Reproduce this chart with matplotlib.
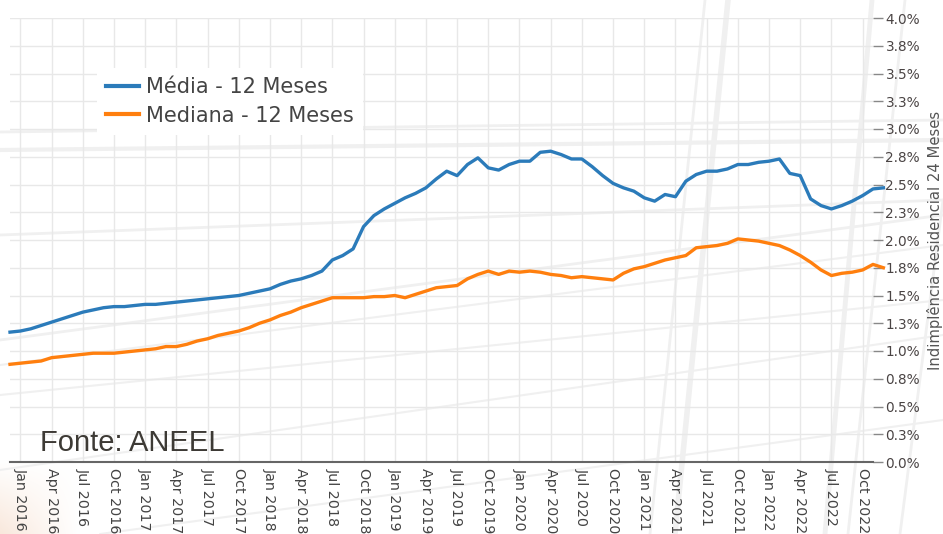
import numpy as np
import matplotlib
matplotlib.use("Agg")
import matplotlib.pyplot as plt
import matplotlib.ticker as mticker
from matplotlib.colors import LinearSegmentedColormap

# ---- data (monthly, Dec 2015 .. Dec 2022) ----
start_month = -1   # months relative to Jan 2016
media = [1.17, 1.18, 1.20, 1.23, 1.26, 1.29, 1.32, 1.35, 1.37, 1.39, 1.40, 1.40,
         1.41, 1.42, 1.42, 1.43, 1.44, 1.45, 1.46, 1.47, 1.48, 1.49, 1.50, 1.52,
         1.54, 1.56, 1.60, 1.63, 1.65, 1.68, 1.72, 1.82, 1.86, 1.92, 2.12, 2.22,
         2.28, 2.33, 2.38, 2.42, 2.47, 2.55, 2.62, 2.58, 2.68, 2.74, 2.65, 2.63,
         2.68, 2.71, 2.71, 2.79, 2.80, 2.77, 2.73, 2.73, 2.66, 2.58, 2.51, 2.47,
         2.44, 2.38, 2.35, 2.41, 2.39, 2.53, 2.59, 2.62, 2.62, 2.64, 2.68, 2.68,
         2.70, 2.71, 2.73, 2.60, 2.58, 2.37, 2.31, 2.28, 2.31, 2.35, 2.40, 2.46,
         2.47]
mediana = [0.88, 0.89, 0.90, 0.91, 0.94, 0.95, 0.96, 0.97, 0.98, 0.98, 0.98, 0.99,
           1.00, 1.01, 1.02, 1.04, 1.04, 1.06, 1.09, 1.11, 1.14, 1.16, 1.18, 1.21,
           1.25, 1.28, 1.32, 1.35, 1.39, 1.42, 1.45, 1.48, 1.48, 1.48, 1.48, 1.49,
           1.49, 1.50, 1.48, 1.51, 1.54, 1.57, 1.58, 1.59, 1.65, 1.69, 1.72, 1.69,
           1.72, 1.71, 1.72, 1.71, 1.69, 1.68, 1.66, 1.67, 1.66, 1.65, 1.64, 1.70,
           1.74, 1.76, 1.79, 1.82, 1.84, 1.86, 1.93, 1.94, 1.95, 1.97, 2.01, 2.00,
           1.99, 1.97, 1.95, 1.91, 1.86, 1.80, 1.73, 1.68, 1.70, 1.71, 1.73, 1.78,
           1.75]
tick_labels = [f"{m} {y}" for y in range(2016, 2023) for m in ("Jan", "Apr", "Jul", "Oct")]
legend_labels = ["Média - 12 Meses", "Mediana - 12 Meses"]
y_label = "Indimplência Residencial 24 Meses"
source = "Fonte: ANEEL"

months = np.arange(start_month, start_month + len(media))

W, H = 943, 534
fig = plt.figure(figsize=(W / 100, H / 100), dpi=100)
fig.patch.set_facecolor("white")

# ---- faint decorative background (slide background) ----
bg = fig.add_axes([0, 0, 1, 1], zorder=-10)
bg.set_xlim(0, W)
bg.set_ylim(H, 0)
bg.axis("off")
grad = np.linspace(1, 0, 200)[None, :] * np.linspace(0, 1, 120)[:, None]
cmap = LinearSegmentedColormap.from_list("p", ["#ffffff", "#f9e8dc"])
bg.imshow(grad, extent=(0, 80, H, 460), cmap=cmap, aspect="auto", zorder=0)
deco = [
    ((0, 150), (943, 140), 3), ((0, 132), (943, 120), 2), ((0, 235), (943, 200), 2),
    ((0, 340), (943, 215), 2), ((0, 365), (943, 245), 1.5), ((0, 395), (943, 300), 1.5),
    ((0, 470), (943, 335), 1.5), ((100, 534), (943, 420), 1.5),
    ((675, 534), (728, 0), 4), ((650, 534), (705, 0), 2), ((825, 534), (872, 0), 3.5),
    ((848, 534), (905, 0), 2), ((900, 534), (943, 200), 2),
]
for (x0, y0), (x1, y1), lw in deco:
    bg.plot([x0, x1], [y0, y1], color="#f0f0f0", lw=lw, solid_capstyle="round", zorder=1)

# ---- main axes ----
x_left, x_right, y_top, y_bot = 10, 873, 18, 462
ax = fig.add_axes([x_left / W, 1 - y_bot / H, (x_right - x_left) / W, (y_bot - y_top) / H])
ax.patch.set_visible(False)

ax.plot(months, media, color="#2b7bba", lw=2.4, label=legend_labels[0], zorder=3, clip_on=False)
ax.plot(months, mediana, color="#ff7f0e", lw=2.4, label=legend_labels[1], zorder=3, clip_on=False)

ax.set_xlim(months[0], months[-2])
ax.set_ylim(0, 4.0)

xt = np.arange(len(tick_labels)) * 3
ax.set_xticks(xt)
ax.set_xticklabels(tick_labels, rotation=-90, fontsize=10.3, color="#444444")
ax.set_yticks(np.arange(0, 4.01, 0.25))
ax.yaxis.set_major_formatter(
    mticker.FuncFormatter(lambda v, p: f"{np.floor(v * 10 + 0.5 + 1e-9) / 10:.1f}%"))
ax.yaxis.tick_right()
ax.yaxis.set_label_position("right")
ax.tick_params(axis="y", length=7.5, width=1, color="#888888", labelsize=9.8,
               labelcolor="#4a4444", pad=1.5)
ax.tick_params(axis="x", length=0, pad=4)

ax.grid(True, color="#e8e8e8", lw=1, zorder=0)
ax.set_axisbelow(True)
for s in ("top", "left", "right"):
    ax.spines[s].set_visible(False)
ax.spines["bottom"].set_color("#666666")
ax.spines["bottom"].set_linewidth(1.5)

ax.set_ylabel(y_label, fontsize=10.6, color="#555555", labelpad=5)

leg = ax.legend(loc="upper left", bbox_to_anchor=(97 / W, 1 - 68 / H),
                bbox_transform=fig.transFigure, borderaxespad=0, borderpad=0.45,
                fontsize=15, frameon=True, facecolor="white", edgecolor="none",
                framealpha=1, fancybox=False, handlelength=1.55, handletextpad=0.35,
                labelspacing=0.4, labelcolor="#444444")
leg.set_zorder(5)
for ln in leg.get_lines():
    ln.set_linewidth(3)

fig.text(40 / W, 1 - 443 / H, source, fontsize=21, color="#3d3a35",
         family="Liberation Sans", va="center", ha="left")

fig.savefig("out.png", dpi=100)
